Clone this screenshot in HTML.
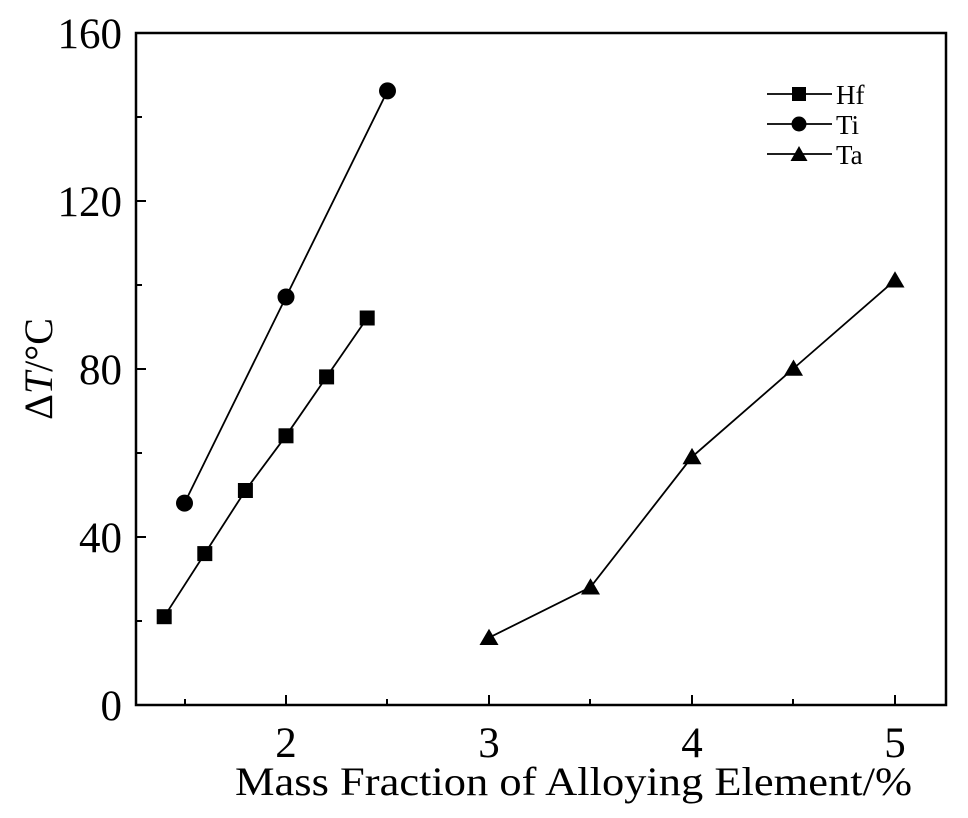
<!DOCTYPE html>
<html><head><style>body{margin:0;background:#fff}</style></head><body>
<svg width="968" height="813" xmlns="http://www.w3.org/2000/svg" font-family="Liberation Serif, serif">
<rect x="136" y="33" width="810" height="672" fill="none" stroke="#000" stroke-width="2.5"/>
<g stroke="#000" stroke-width="2">
<line x1="136" y1="537" x2="146" y2="537"/><line x1="136" y1="369" x2="146" y2="369"/><line x1="136" y1="201" x2="146" y2="201"/>
<line x1="136" y1="621" x2="142" y2="621"/><line x1="136" y1="453" x2="142" y2="453"/><line x1="136" y1="285" x2="142" y2="285"/><line x1="136" y1="117" x2="142" y2="117"/>
<line x1="286" y1="705" x2="286" y2="695"/><line x1="489" y1="705" x2="489" y2="695"/><line x1="692" y1="705" x2="692" y2="695"/><line x1="895" y1="705" x2="895" y2="695"/>
<line x1="185" y1="705" x2="185" y2="699"/><line x1="387" y1="705" x2="387" y2="699"/><line x1="590" y1="705" x2="590" y2="699"/><line x1="793" y1="705" x2="793" y2="699"/>
</g>
<g font-size="43" text-anchor="end">
<text x="122" y="720">0</text><text x="122" y="552">40</text><text x="122" y="384">80</text><text x="122" y="216">120</text><text x="122" y="48">160</text>
</g>
<g font-size="43" text-anchor="middle">
<text x="286" y="757">2</text><text x="489" y="757">3</text><text x="692" y="757">4</text><text x="895" y="757">5</text>
</g>
<text x="235" y="795" font-size="40" textLength="677" lengthAdjust="spacingAndGlyphs">Mass Fraction of  Alloying Element/%</text>
<text transform="translate(52,369) rotate(-90)" font-size="40" text-anchor="middle">Δ<tspan font-style="italic">T</tspan>/°C</text>
<g stroke="#000" stroke-width="1.8" fill="none">
<polyline points="164.2,616.7 204.8,553.6 245.4,490.5 286,435.8 326.6,376.9 367.2,318"/>
<polyline points="184.5,503.1 286,297 387.5,90.9"/>
<polyline points="489,637.7 590.5,587.2 692,456.9 793.5,368.5 895,280.2"/>
<line x1="767" y1="94" x2="832" y2="94"/><line x1="767" y1="124" x2="832" y2="124"/><line x1="767" y1="154" x2="832" y2="154"/>
</g>
<g fill="#000">
<rect x="156.7" y="609.2" width="15" height="15"/><rect x="197.3" y="546.1" width="15" height="15"/><rect x="237.9" y="483" width="15" height="15"/><rect x="278.5" y="428.3" width="15" height="15"/><rect x="319.1" y="369.4" width="15" height="15"/><rect x="359.7" y="310.5" width="15" height="15"/>
<circle cx="184.5" cy="503.1" r="8.5"/><circle cx="286" cy="297" r="8.5"/><circle cx="387.5" cy="90.9" r="8.5"/>
<polygon points="489,628.7 498.5,645 479.5,645"/><polygon points="590.5,578.2 600,594.5 581,594.5"/><polygon points="692,447.9 701.5,464.2 682.5,464.2"/><polygon points="793.5,359.5 803,375.8 784,375.8"/><polygon points="895,271.2 904.5,287.5 885.5,287.5"/>
<rect x="792" y="87" width="14" height="14"/><circle cx="799" cy="124" r="7.5"/><polygon points="799,146 807.5,161 790.5,161"/>
</g>
<g font-size="27">
<text x="836" y="104">Hf</text><text x="836" y="134">Ti</text><text x="836" y="164">Ta</text>
</g>
</svg>
</body></html>
